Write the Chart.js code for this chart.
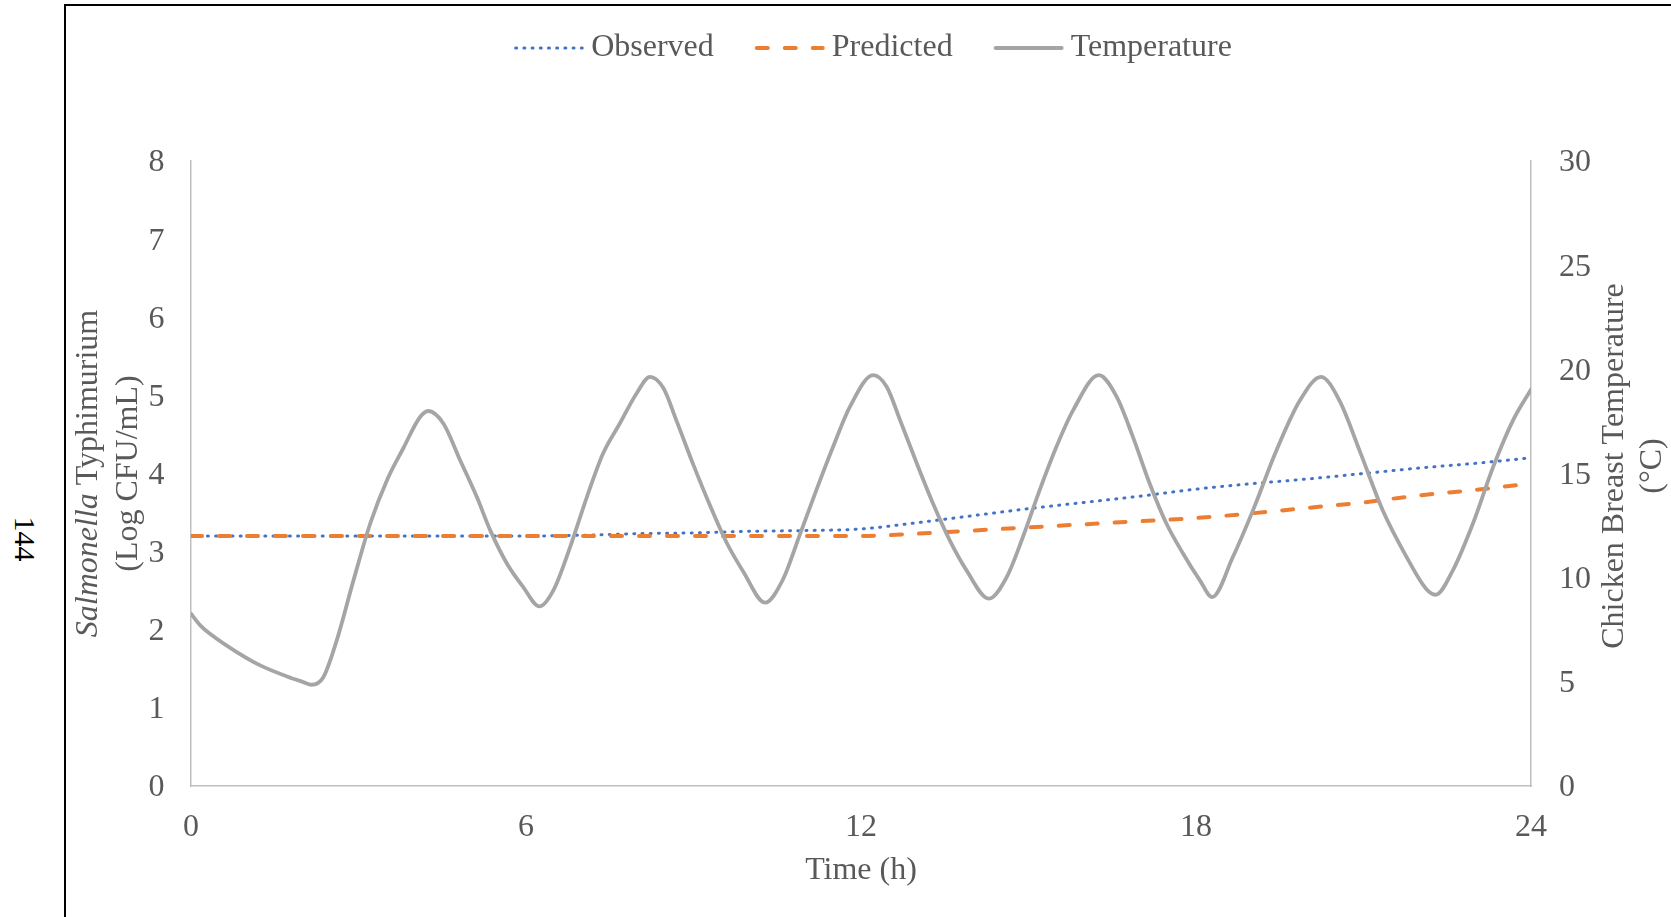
<!DOCTYPE html>
<html>
<head>
<meta charset="utf-8">
<title>Salmonella Typhimurium on chicken breast under fluctuating temperature</title>
<script src="https://cdn.jsdelivr.net/npm/chart.js@4.4.0/dist/chart.umd.min.js"></script>
<style>
    html, body { margin: 0; padding: 0; background: #fff; overflow: hidden; }
    #frame { position: absolute; left: 64px; top: 4px; width: 1700px; height: 1000px; border-left: 2px solid #000; border-top: 2px solid #000; }
    #pageNum { position: absolute; left: 25px; top: 539px; transform: translate(-50%, -50%) rotate(90deg); font: 30px 'Liberation Serif', serif; line-height: 1; color: #000; }
    #wrap { position: absolute; left: 0; top: 0; width: 1671px; height: 917px; }
</style>
</head>
<body>
<div id="frame"></div>
<div id="pageNum">144</div>
<div id="wrap"><canvas id="myChart"></canvas></div>
<script>
// Chicken breast temperature profile (time in h, °C)
const tempTime = [0, 0.17, 0.34, 0.82, 1.24, 1.72, 2.0, 2.16, 2.37, 2.61, 2.91, 3.21, 3.51, 3.8, 4.1, 4.25,
    4.52, 4.82, 5.12, 5.36, 5.66, 5.95, 6.24, 6.49, 6.79, 7.09, 7.38, 7.68, 7.98, 8.22,
    8.46, 8.7, 9.0, 9.29, 9.59, 9.89, 10.28, 10.6, 10.9, 11.2, 11.5, 11.8, 12.22,
    12.46, 12.7, 13.0, 13.29, 13.59, 13.89, 14.29, 14.61, 14.9, 15.2, 15.5, 15.8, 16.26,
    16.58, 16.87, 17.17, 17.47, 17.77, 18.07, 18.29, 18.66, 19.02, 19.44, 19.86, 20.24,
    20.57, 20.93, 21.35, 21.77, 22.12, 22.29, 22.6, 22.96, 23.32, 23.68, 24.0];
const tempValues = [8.27, 7.7, 7.31, 6.43, 5.79, 5.26, 5.0, 4.86, 5.22, 6.99, 9.87, 12.6, 14.68, 16.2, 17.7, 18.0,
    17.4, 15.64, 13.87, 12.27, 10.67, 9.55, 8.62, 9.39, 11.47, 13.87, 15.96, 17.4, 18.84, 19.64,
    19.1, 17.5, 15.4, 13.5, 11.7, 10.3, 8.8, 9.9, 12.03, 14.2, 16.28, 18.2, 19.72,
    19.16, 17.56, 15.48, 13.56, 11.79, 10.35, 8.99, 10.03, 11.95, 14.2, 16.28, 18.04, 19.72,
    18.68, 16.76, 14.52, 12.6, 11.15, 9.87, 9.07, 10.99, 13.23, 16.1, 18.5, 19.64,
    18.5, 16.1, 13.2, 11.0, 9.47, 9.18, 10.35, 12.6, 15.3, 17.56, 19.03];

// Observed counts (log CFU/mL)
const obsTime = [0, 6, 7, 8, 9, 10, 11, 12, 13, 14, 15, 16, 17, 18, 19, 20, 21, 22, 23, 24];
const obsValues = [3.2, 3.2, 3.21, 3.23, 3.24, 3.26, 3.27, 3.29, 3.37, 3.46, 3.55, 3.63, 3.71, 3.80, 3.87, 3.93, 4.0, 4.07, 4.13, 4.2];

// Predicted counts (log CFU/mL)
const predTime = [0, 12, 13, 14, 15, 16, 17, 18, 19, 20, 21, 22, 23, 23.75];
const predValues = [3.2, 3.2, 3.23, 3.27, 3.31, 3.35, 3.39, 3.43, 3.49, 3.56, 3.63, 3.72, 3.79, 3.85];

// Tick values
const xTicks = [0, 6, 12, 18, 24];
const countTicks = [0, 1, 2, 3, 4, 5, 6, 7, 8];
const tempTicks = [0, 5, 10, 15, 20, 25, 30];

const seriesLabels = ['Observed', 'Predicted', 'Temperature'];
const leftTitle = ['Salmonella', ' Typhimurium', '(Log CFU/mL)'];
const rightTitle = ['Chicken Breast Temperature', '(°C)'];

const TEXT_COLOR = '#595959';
const FONT_FAMILY = "'Liberation Serif', 'Times New Roman', serif";
const FONT = "32px " + FONT_FAMILY;
const AXIS_COLOR = '#bfbfbf';

function toPoints(times, values) {
    return times.map((t, i) => ({ x: t, y: values[i] }));
}

function setTicks(values) {
    return function (axis) {
        axis.ticks = values.map(v => ({ value: v }));
    };
}

// Axis titles (mixed italic, rotated) and line-style legend
const chartText = {
    id: 'chartText',
    afterDraw(chart) {
        const { ctx, chartArea } = chart;
        const midY = (chartArea.top + chartArea.bottom) / 2;
        ctx.save();
        ctx.fillStyle = TEXT_COLOR;
        ctx.textBaseline = 'middle';

        // left axis title
        ctx.save();
        ctx.translate(89, midY);
        ctx.rotate(-Math.PI / 2);
        ctx.font = 'italic ' + FONT;
        const genusW = ctx.measureText(leftTitle[0]).width;
        ctx.font = FONT;
        const restW = ctx.measureText(leftTitle[1]).width;
        const startX = -(genusW + restW) / 2;
        ctx.textAlign = 'left';
        ctx.font = 'italic ' + FONT;
        ctx.fillText(leftTitle[0], startX, 0);
        ctx.font = FONT;
        ctx.fillText(leftTitle[1], startX + genusW, 0);
        ctx.textAlign = 'center';
        ctx.fillText(leftTitle[2], 0, 40);
        ctx.restore();

        // right axis title
        ctx.save();
        ctx.translate(1615, 466);
        ctx.rotate(-Math.PI / 2);
        ctx.font = FONT;
        ctx.textAlign = 'center';
        ctx.fillText(rightTitle[0], 0, 0);
        ctx.fillText(rightTitle[1], 0, 38);
        ctx.restore();

        // legend
        const lineLen = 70, gap = 7, spacing = 41, legendY = 48, legendCenter = 873;
        ctx.font = FONT;
        const items = chart.data.datasets.map(ds => ({ ds: ds, w: ctx.measureText(ds.label).width }));
        const total = items.reduce((s, it) => s + lineLen + gap + it.w, 0) + spacing * (items.length - 1);
        let lx = legendCenter - total / 2;
        items.forEach(({ ds, w }) => {
            const cap = ds.borderWidth / 2;
            ctx.save();
            ctx.strokeStyle = ds.borderColor;
            ctx.lineWidth = ds.borderWidth;
            ctx.lineCap = ds.borderCapStyle || 'butt';
            ctx.setLineDash(ds.borderDash || []);
            ctx.beginPath();
            ctx.moveTo(lx + cap, legendY);
            ctx.lineTo(lx + lineLen - cap, legendY);
            ctx.stroke();
            ctx.restore();
            ctx.textAlign = 'left';
            ctx.fillText(ds.label, lx + lineLen + gap, legendY);
            lx += lineLen + gap + w + spacing;
        });
        ctx.restore();
    }
};

const tickFont = { family: FONT_FAMILY, size: 32, lineHeight: 1.2 };

const ctx = document.getElementById('myChart').getContext('2d');
new Chart(ctx, {
    type: 'line',
    data: {
        datasets: [{
            label: seriesLabels[0],
            data: toPoints(obsTime, obsValues),
            yAxisID: 'y',
            borderColor: '#4472c4',
            borderWidth: 3,
            borderDash: [1, 7.2],
            borderCapStyle: 'round',
            pointRadius: 0,
            cubicInterpolationMode: 'monotone',
            order: 2
        }, {
            label: seriesLabels[1],
            data: toPoints(predTime, predValues),
            yAxisID: 'y',
            borderColor: '#ed7d31',
            borderWidth: 4,
            borderDash: [11, 17],
            borderCapStyle: 'round',
            pointRadius: 0,
            cubicInterpolationMode: 'monotone',
            order: 1
        }, {
            label: seriesLabels[2],
            data: toPoints(tempTime, tempValues),
            yAxisID: 'y1',
            borderColor: '#a5a5a5',
            borderWidth: 3.8,
            borderCapStyle: 'round',
            borderJoinStyle: 'round',
            pointRadius: 0,
            cubicInterpolationMode: 'monotone',
            order: 0
        }]
    },
    options: {
        responsive: true,
        maintainAspectRatio: false,
        animation: false,
        layout: { padding: { top: 161, left: 0, right: 0, bottom: 0 } },
        plugins: {
            legend: { display: false },
            tooltip: { enabled: false }
        },
        scales: {
            x: {
                type: 'linear',
                min: 0,
                max: 24,
                grid: { display: false },
                border: { display: true, color: AXIS_COLOR, width: 1.5 },
                ticks: { padding: 14.5, color: TEXT_COLOR, font: tickFont },
                title: {
                    display: true,
                    text: 'Time (h)',
                    color: TEXT_COLOR,
                    font: tickFont,
                    padding: { top: 0, bottom: 27 }
                },
                afterBuildTicks: setTicks(xTicks),
                afterFit(axis) {
                    axis.height = 131;
                    axis.paddingLeft = 0;
                    axis.paddingRight = 0;
                }
            },
            y: {
                position: 'left',
                min: 0,
                max: 8,
                grid: { display: false },
                border: { display: true, color: AXIS_COLOR, width: 1.5 },
                ticks: { padding: 18.5, labelOffset: 2, color: TEXT_COLOR, font: tickFont },
                afterBuildTicks: setTicks(countTicks),
                afterFit(axis) {
                    axis.width = 191;
                    axis.paddingTop = 0;
                    axis.paddingBottom = 0;
                }
            },
            y1: {
                position: 'right',
                min: 0,
                max: 30,
                grid: { display: false },
                border: { display: true, color: AXIS_COLOR, width: 1.5 },
                ticks: { padding: 20, labelOffset: 2, color: TEXT_COLOR, font: tickFont },
                afterBuildTicks: setTicks(tempTicks),
                afterFit(axis) {
                    axis.width = 140;
                    axis.paddingTop = 0;
                    axis.paddingBottom = 0;
                }
            }
        }
    },
    plugins: [chartText]
});
</script>
</body>
</html>
